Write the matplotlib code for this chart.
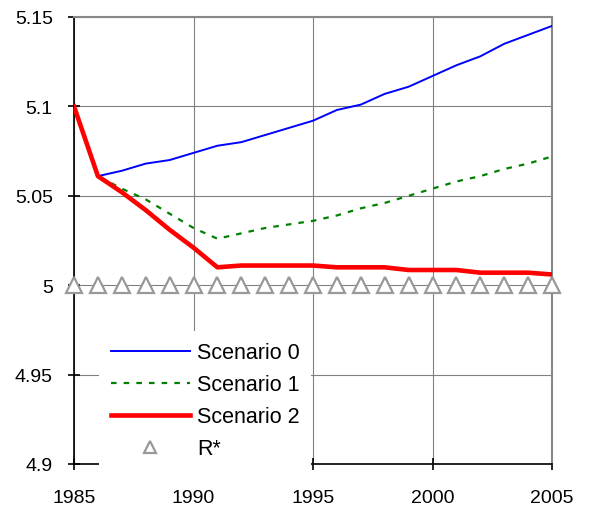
import matplotlib.pyplot as plt
from matplotlib.ticker import FuncFormatter

plt.rcParams['font.family'] = ['Liberation Sans', 'DejaVu Sans']

years = list(range(1985, 2006))

scenario_0 = [5.100, 5.061, 5.064, 5.068, 5.070, 5.074, 5.078, 5.080, 5.084, 5.088, 5.092,
              5.098, 5.101, 5.107, 5.111, 5.117, 5.123, 5.128, 5.135, 5.140, 5.145]
scenario_1 = [5.100, 5.061, 5.054, 5.048, 5.040, 5.032, 5.026, 5.029, 5.032, 5.034, 5.036,
              5.039, 5.043, 5.046, 5.050, 5.054, 5.058, 5.061, 5.065, 5.068, 5.072]
scenario_2 = [5.100, 5.061, 5.052, 5.042, 5.031, 5.021, 5.010, 5.011, 5.011, 5.011, 5.011,
              5.010, 5.010, 5.010, 5.0085, 5.0085, 5.0085, 5.007, 5.007, 5.007, 5.006]
r_star = [5.0] * len(years)

fig = plt.figure(figsize=(5.94, 5.10), dpi=100)
ax = fig.add_axes([74 / 594, 1 - 465 / 510, 478 / 594, 447 / 510])

ax.plot(years, scenario_0, color='#0000ff', lw=1.4, label='Scenario 0', zorder=3)
ax.plot(years, scenario_1, color='#008000', lw=1.6, linestyle=(0, (2.5, 3.2)),
        label='Scenario 1', zorder=3)
ax.plot(years, scenario_2, color='#ff0000', lw=3.3, label='Scenario 2', zorder=4)
ax.plot(years, r_star, linestyle='none', marker='^', markersize=12,
        markerfacecolor='white', markeredgecolor='#999999', markeredgewidth=1.6,
        label='R*', zorder=5, clip_on=False)

ax.set_xlim(1985, 2005)
ax.set_ylim(4.9, 5.15)
ax.set_xticks([1985, 1990, 1995, 2000, 2005])
ax.set_yticks([4.9, 4.95, 5.0, 5.05, 5.1, 5.15])
ax.yaxis.set_major_formatter(FuncFormatter(lambda v, p: f'{v:g}'))

ax.grid(True, color='#808080', lw=0.8)
ax.set_axisbelow(True)
for side in ['top', 'right']:
    ax.spines[side].set_color('#888888')
    ax.spines[side].set_linewidth(1.5)
for side in ['left', 'bottom']:
    ax.spines[side].set_color('black')
    ax.spines[side].set_linewidth(1.2)

ax.tick_params(direction='inout', length=8.6, width=1.2, labelsize=14, colors='black')
ax.tick_params(axis='y', pad=11)
ax.tick_params(axis='x', pad=14)

# white legend box sits over the grid and the bottom spine
leg = ax.legend(loc='lower left', bbox_to_anchor=(0.052, -0.016), borderaxespad=0,
                fontsize=15.5, frameon=True, fancybox=False, facecolor='white',
                edgecolor='none', framealpha=1, handlelength=3.67, handletextpad=0.33,
                labelspacing=0.51, borderpad=0.55, markerscale=0.75)
leg.set_zorder(10)

fig.savefig('out.png', dpi=100)
